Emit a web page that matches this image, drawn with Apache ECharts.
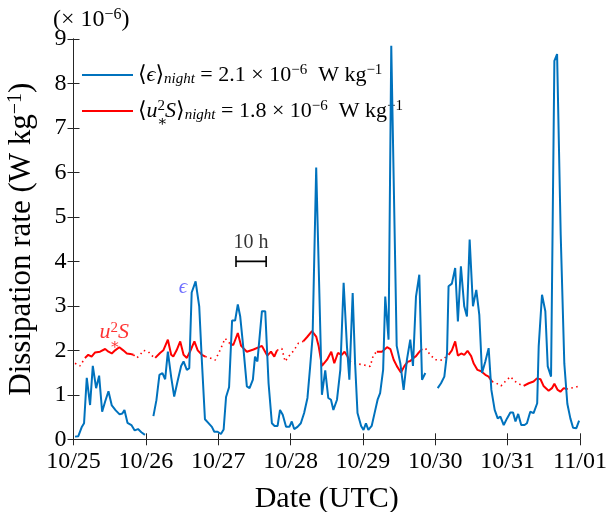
<!DOCTYPE html>
<html>
<head>
<meta charset="utf-8">
<script src="https://cdn.jsdelivr.net/npm/echarts@6/dist/echarts.min.js"></script>
<style>html,body{margin:0;padding:0;background:#fff}#c{width:607px;height:512px}</style>
</head>
<body>
<div id="c"></div>
<script>
// x: hours since 10/25 00:00 UTC; y: dissipation rate in units of 1e-6 W/kg
const xTickLabels = ['10/25','10/26','10/27','10/28','10/29','10/30','10/31','11/01'];

const epsHours = [
  0.5,1.6,2.7,3.5,4.4,5.5,6.4,7.5,8.5,9.5,10.5,11.6,12.7,14.0,15.3,16.2,16.9,17.9,19.2,20.3,21.4,22.5,23.7,
  25.0,
  26.5,27.5,28.5,29.5,30.4,31.3,32.4,33.4,34.5,35.7,36.5,37.6,38.4,39.2,40.5,41.7,42.5,43.6,44.7,45.9,46.7,47.8,48.9,49.8,
  50.6,51.6,52.6,53.6,54.5,55.3,56.4,57.5,58.4,59.5,60.2,61.0,62.5,63.6,64.7,65.8,66.7,67.7,68.5,69.4,70.5,71.6,72.4,73.2,
  74.3,75.4,76.5,77.6,78.5,79.3,80.5,82.4,83.5,84.5,85.4,86.2,87.4,88.5,89.6,90.7,91.5,92.6,93.4,94.2,95.4,96.2,97.0,97.8,
  98.9,99.9,100.9,101.7,102.7,103.4,104.5,105.4,107.2,108.4,109.5,110.6,111.7,112.6,113.6,114.7,115.6,116.7,
  118.5,
  120.8,121.9,123.0,123.9,124.4,125.5,126.6,127.5,128.5,129.6,130.5,131.4,132.5,133.6,134.6,135.5,136.6,137.7,138.6,139.7,
  140.7,141.6,142.7,143.8,144.9,145.8,146.6,147.5,148.5,149.6,150.4,151.5,152.6,153.8,154.3,155.4,156.5,157.3,158.4,159.5,
  160.4,161.6,162.8,163.8,164.8,165.7,166.8,167.7
];
const epsValues = [
  0.06,0.07,0.27,0.36,1.38,0.77,1.65,1.15,1.43,0.62,0.85,1.08,0.76,0.65,0.56,0.58,0.66,0.37,0.32,0.20,0.23,0.16,0.10,
  null,
  0.52,0.88,1.45,1.49,1.35,1.97,1.40,0.96,1.30,1.65,1.75,1.56,1.60,3.30,3.55,2.99,1.86,0.45,0.37,0.28,0.17,0.17,0.12,0.22,
  0.95,1.17,2.67,2.67,3.03,2.76,2.01,1.19,1.15,1.34,1.86,1.75,2.88,2.88,1.26,0.36,0.30,0.30,0.66,0.55,0.28,0.28,0.40,0.23,
  0.28,0.36,0.59,0.93,1.64,2.30,6.11,1.00,1.55,0.93,0.89,0.66,0.89,1.56,3.52,2.09,1.34,3.29,1.71,0.59,0.30,0.21,0.36,0.21,
  0.30,0.60,0.90,1.04,1.56,3.21,2.24,8.85,2.10,1.71,1.11,1.79,2.24,1.65,3.21,3.70,1.34,1.49,
  null,
  1.15,1.26,1.41,1.94,3.44,3.50,3.85,2.65,3.89,2.99,2.76,4.49,2.99,3.36,2.80,1.49,1.75,2.05,1.11,0.66,
  0.47,0.51,0.32,0.47,0.60,0.60,0.40,0.57,0.32,0.32,0.36,0.62,0.59,0.81,2.09,3.25,2.88,1.64,1.41,8.51,
  8.66,4.60,1.70,0.80,0.47,0.26,0.25,0.42
];

const redHours = [
  0.5,2.2,3.8,4.9,6.0,7.1,8.8,10.5,11.6,12.7,13.8,15.2,16.5,17.7,18.8,19.9,21.0,22.1,23.2,24.8,26.0,27.1,
  28.7,29.8,31.3,32.4,33.1,34.2,35.4,36.5,37.6,38.7,40.1,41.2,42.6,43.7,45.3,47.0,48.6,50.3,51.9,
  53.0,54.5,55.6,57.5,59.7,62.5,64.3,65.5,66.6,67.5,69.1,70.2,71.3,73.0,74.6,76.2,
  77.5,79.1,80.5,81.3,82.4,84.1,85.5,86.5,87.7,89.0,89.9,90.9,91.6,92.9,95.7,98.4,99.5,100.6,
  102.3,104.0,105.1,106.2,107.3,108.6,109.7,110.8,111.7,112.8,113.6,114.5,115.3,116.7,118.3,120.0,122.2,124.4,
  125.5,126.6,127.5,128.6,129.6,130.7,131.9,132.7,134.0,135.2,136.6,137.7,138.8,140.3,141.8,143.2,144.9,146.5,148.2,149.3,
  151.0,152.6,153.7,154.9,155.9,157.6,158.7,159.5,160.6,161.5,162.6,163.5,164.8,166.5,167.9
];
const redValues = [
  1.71,1.65,1.83,1.90,1.86,1.95,1.97,2.03,1.97,1.93,2.00,2.07,2.00,1.93,1.92,1.90,1.83,1.90,2.00,1.97,1.88,1.83,
  1.94,2.00,2.24,1.90,1.86,2.00,2.20,1.90,1.83,1.98,2.20,2.00,1.90,1.86,1.83,1.78,2.00,2.27,2.15,
  2.12,2.39,2.10,1.97,2.02,2.10,1.88,1.97,1.86,2.00,2.04,1.75,1.86,1.99,2.16,2.20,
  2.30,2.43,2.31,2.10,1.65,1.79,1.97,1.71,1.94,1.90,1.97,1.86,1.75,1.71,1.68,1.64,1.90,1.97,
  1.97,2.07,2.03,1.79,1.64,1.50,1.64,1.74,1.76,1.83,1.87,1.95,2.01,2.05,1.90,1.79,1.78,1.90,
  2.00,2.20,1.88,1.93,1.90,1.99,1.87,1.71,1.56,1.53,1.45,1.41,1.30,1.26,1.20,1.30,1.41,1.30,1.23,1.20,
  1.26,1.30,1.37,1.35,1.20,1.09,1.15,1.25,1.11,1.07,1.15,1.13,1.15,1.17,1.20
];
// night-time windows (hours) where u*^2 S is drawn solid
const nightWindows = [[3.8,19.9],[27.1,43.7],[51.9,67.5],[76.2,91.6],[100.6,115.3],[124.4,138.8],[149.3,163.5]];

const SERIF = '"Liberation Serif","DejaVu Serif",serif';
const BLUE = '#0072BD', RED = '#FF0000';

const epsData = epsHours.map((h,i)=>[h, epsValues[i]===null ? '-' : epsValues[i]]);
const isNight = h => nightWindows.some(w => h >= w[0]-1e-6 && h <= w[1]+1e-6);
const redSolid = [], redDotted = [];
redHours.forEach((h,i)=>{
  const n = isNight(h);
  const prevDay = i>0 && !isNight(redHours[i-1]);
  const nextDay = i<redHours.length-1 && !isNight(redHours[i+1]);
  redSolid.push([h, n ? redValues[i] : '-']);
  redDotted.push([h, (!n || prevDay || nextDay) ? redValues[i] : '-']);
});

const FS = 22;
const rich = {
  t:{fontFamily:SERIF,fontSize:FS,color:'#000'},
  ti:{fontFamily:SERIF,fontSize:FS,color:'#000',fontStyle:'italic'},
  sub:{fontFamily:SERIF,fontSize:15,color:'#000',fontStyle:'italic',verticalAlign:'bottom',padding:[9,0,0,0]},
  sup:{fontFamily:SERIF,fontSize:15,color:'#000',verticalAlign:'top',padding:[0,0,9,0]}
};

const chart = echarts.init(document.getElementById('c'), null, {renderer:'canvas'});
const axisLineStyle = {color:'#262626', width:1};
chart.setOption({
  animation:false,
  backgroundColor:'#fff',
  title:{
    text:'{t|(× 10}{sup|−6}{t|)}',
    left:48, top:2,
    textStyle:{fontWeight:'normal', rich:{
      t:{fontFamily:SERIF,fontSize:24,color:'#000'},
      sup:{fontFamily:SERIF,fontSize:16,color:'#000',verticalAlign:'top',padding:[0,0,10,0]}}}
  },
  grid:{left:73.5, right:27, top:39, bottom:72.7, containLabel:false, outerBoundsMode:'none'},
  legend:{
    data:[{name:'eps',icon:'rect'},{name:'us',icon:'rect'}],
    orient:'vertical',
    left:77, top:58,
    itemWidth:51, itemHeight:2, itemGap:12,
    textStyle:{rich:rich, fontFamily:SERIF, fontSize:FS, color:'#000'},
    formatter:function(name){
      if(name==='eps') return '{t|⟨}{ti|ϵ}{t|⟩}{sub|night}{t| = 2.1 × 10}{sup|−6}{t|  W kg}{sup|−1}';
      return '{t|⟨}{ti|u}{sup|2}{ti|S}{t|⟩}{sub|night}{t| = 1.8 × 10}{sup|−6}{t|  W kg}{sup|−1}';
    }
  },
  graphic:[{type:'text', id:'legstar', left:157, top:115,
    style:{text:'∗', fontFamily:SERIF, fontSize:15, fill:'#000'}}],
  xAxis:[{
    type:'value', min:0, max:168, interval:24,
    name:'Date (UTC)', nameLocation:'middle', nameGap:45,
    nameTextStyle:{fontFamily:SERIF, fontSize:30, color:'#000'},
    axisLine:{show:true, lineStyle:axisLineStyle},
    axisTick:{show:true, inside:true, length:6, lineStyle:axisLineStyle},
    axisLabel:{fontFamily:SERIF, fontSize:24, color:'#000', margin:10,
      formatter:v=>xTickLabels[Math.round(v/24)]},
    splitLine:{show:false}
  },{
    type:'value', min:0, max:168, interval:24, position:'top',
    axisLine:{show:true, lineStyle:axisLineStyle},
    axisTick:{show:true, inside:true, length:6, lineStyle:axisLineStyle},
    axisLabel:{show:false}, splitLine:{show:false}
  }],
  yAxis:[{
    type:'value', min:0, max:9, interval:1,
    name:'{t|Dissipation rate (W kg}{sup|−1}{t|)}', nameLocation:'middle', nameGap:36, nameRotate:90,
    nameTextStyle:{rich:{t:{fontFamily:SERIF,fontSize:31,color:'#000'},sup:{fontFamily:SERIF,fontSize:20,color:'#000',verticalAlign:'top',padding:[0,0,12,0]}}},
    axisLine:{show:true, lineStyle:axisLineStyle},
    axisTick:{show:true, inside:true, length:6, lineStyle:axisLineStyle},
    axisLabel:{fontFamily:SERIF, fontSize:24, color:'#000', margin:7},
    splitLine:{show:false}
  },{
    type:'value', min:0, max:9, interval:1, position:'right',
    axisLine:{show:true, lineStyle:axisLineStyle},
    axisTick:{show:true, inside:true, length:6, lineStyle:axisLineStyle},
    axisLabel:{show:false}, splitLine:{show:false}
  }],
  series:[
    {name:'us_dot', type:'line', data:redDotted, symbol:'none', connectNulls:false,
     lineStyle:{color:RED, width:1.6, type:[1.5,3.5]}, z:2},
    {name:'us', type:'line', data:redSolid, symbol:'none', connectNulls:false,
     lineStyle:{color:RED, width:2}, itemStyle:{color:RED}, z:3},
    {name:'eps', type:'line', data:epsData, symbol:'none', connectNulls:false,
     lineStyle:{color:BLUE, width:2}, itemStyle:{color:BLUE}, z:4},
    {name:'scalebar', type:'line', data:[[53.9,4.0],[63.9,4.0]], symbol:'rect', symbolSize:[1.6,11],
     lineStyle:{color:'#000', width:1.6}, itemStyle:{color:'#000'}, z:5},
    {name:'labels', type:'scatter', symbolSize:0, z:6,
     data:[
       {value:[58.9,4.42], label:{show:true, formatter:'10 h', fontFamily:SERIF, fontSize:20, color:'#000', position:'inside'}},
       {value:[36.3,3.42], label:{show:true, formatter:'ϵ', fontFamily:SERIF, fontSize:21, fontStyle:'italic', color:'#4B4BFF', position:'inside'}},
       {value:[13.5,2.4], label:{show:true, formatter:'{u|u}{s|2}{u|S}', position:'inside',
         rich:{u:{fontFamily:SERIF,fontSize:22,fontStyle:'italic',color:RED},
               s:{fontFamily:SERIF,fontSize:15,color:RED,verticalAlign:'top',padding:[0,0,9,0]}}}},
       {value:[13.6,2.12], label:{show:true, formatter:'∗', fontFamily:SERIF, fontSize:15, color:RED, position:'inside'}}
     ]}
  ]
});
</script>
</body>
</html>
